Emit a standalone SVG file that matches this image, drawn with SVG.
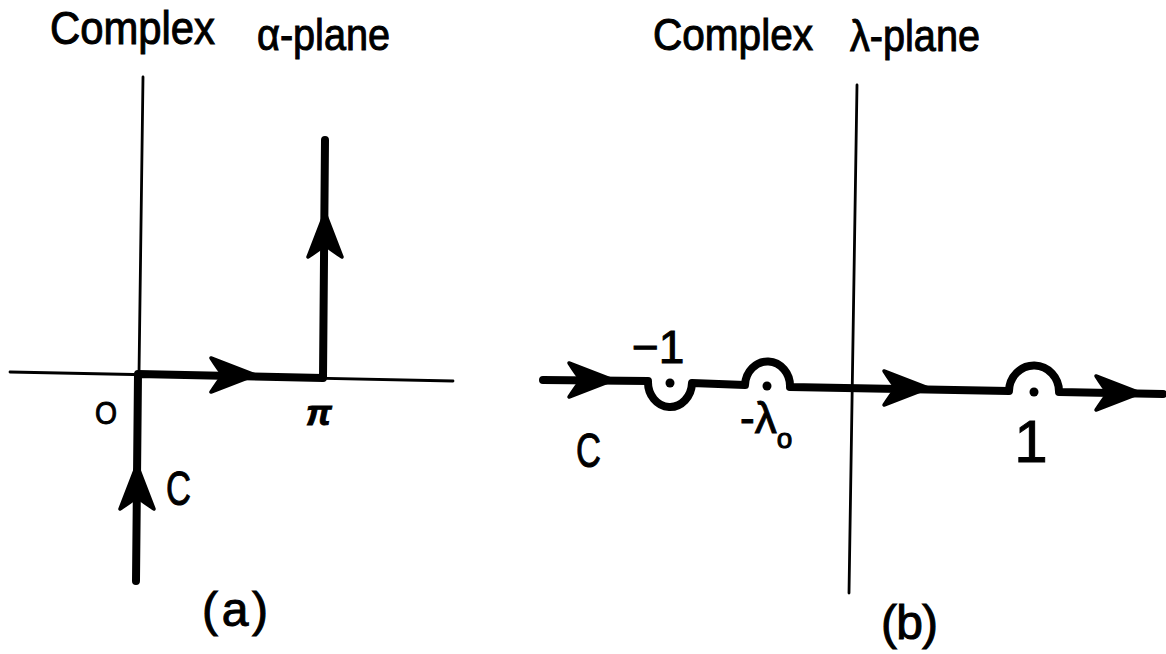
<svg xmlns="http://www.w3.org/2000/svg" xmlns:xlink="http://www.w3.org/1999/xlink" width="1166" height="654" viewBox="0 0 1166 654">
<style>
.axis{fill:none;stroke:#000;stroke-width:2.8;stroke-linecap:round}
.path{fill:none;stroke:#000;stroke-width:8;stroke-linecap:round;stroke-linejoin:round}
.lbl{font-family:"Liberation Sans",Arial,sans-serif;fill:#000;stroke:#000;stroke-width:1}
.ah{fill:#000;stroke:#000;stroke-width:3.5;stroke-linejoin:round}
</style>
<defs>
<path id="ah" class="ah" d="M0,0 L-44,-17 Q-37,-6 -32,0 Q-37,6 -44,17 Z"/>
</defs>
<rect width="1166" height="654" fill="#fff"/>

<g id="panel-a">
  <g id="title-a">
    <text class="lbl" x="50" y="44" font-size="46" textLength="165" lengthAdjust="spacingAndGlyphs">Complex</text>
    <text class="lbl" x="257" y="50" font-size="44" textLength="133" lengthAdjust="spacingAndGlyphs">α-plane</text>
  </g>
  <g id="axes-a">
    <line class="axis" x1="143" y1="77" x2="139" y2="374"/>
    <line class="axis" x1="10" y1="372" x2="453" y2="381"/>
  </g>
  <g id="labels-a">
    <text class="lbl" x="95" y="424" font-size="32" textLength="22" lengthAdjust="spacingAndGlyphs">O</text>
    <text class="lbl" x="306" y="425" font-size="36" font-style="italic" font-weight="bold">π</text>
    <text class="lbl" x="166" y="505" font-size="48" textLength="25" lengthAdjust="spacingAndGlyphs">C</text>
    <text class="lbl" x="202" y="626" font-size="48" textLength="66" lengthAdjust="spacing">(a)</text>
  </g>
</g>

<g id="panel-b">
  <g id="title-b">
    <text class="lbl" x="653" y="50" font-size="44" textLength="160" lengthAdjust="spacingAndGlyphs">Complex</text>
    <text class="lbl" x="850" y="51" font-size="44" textLength="130" lengthAdjust="spacingAndGlyphs">λ-plane</text>
  </g>
  <g id="axes-b">
    <line class="axis" x1="857" y1="85" x2="849" y2="593"/>
  </g>
  <g id="poles">
    <circle cx="670" cy="383" r="4.5"/>
    <circle cx="767" cy="386" r="4.5"/>
    <circle cx="1034" cy="392" r="4.5"/>
  </g>
  <g id="labels-b">
    <text class="lbl" x="632" y="363" font-size="46">−1</text>
    <text class="lbl" x="740" y="433" font-size="44">-λ<tspan font-size="28" y="448">o</tspan></text>
    <text class="lbl" x="576" y="467" font-size="48" textLength="25" lengthAdjust="spacingAndGlyphs">C</text>
    <text class="lbl" x="1031" y="462" font-size="60" text-anchor="middle">1</text>
    <text class="lbl" x="881" y="639" font-size="48" textLength="57" lengthAdjust="spacing">(b)</text>
  </g>
</g>

<g id="connectors">
  <path class="path" d="M136,581 L138,374 L323,378 L325,140"/>
  <use xlink:href="#ah" transform="translate(255,375)"/>
  <use xlink:href="#ah" transform="translate(137,465) rotate(-90)"/>
  <use xlink:href="#ah" transform="translate(325,213) rotate(-90)"/>

  <path class="path" d="M543,380 L648,381 A22 25 0 0 0 692,383 L745,385 A22 24 0 0 1 790,387 L1009,391 A25 26 0 0 1 1059,392 L1163,394"/>
  <use xlink:href="#ah" transform="translate(613,380)"/>
  <use xlink:href="#ah" transform="translate(928,388)"/>
  <use xlink:href="#ah" transform="translate(1140,393)"/>
</g>
</svg>
